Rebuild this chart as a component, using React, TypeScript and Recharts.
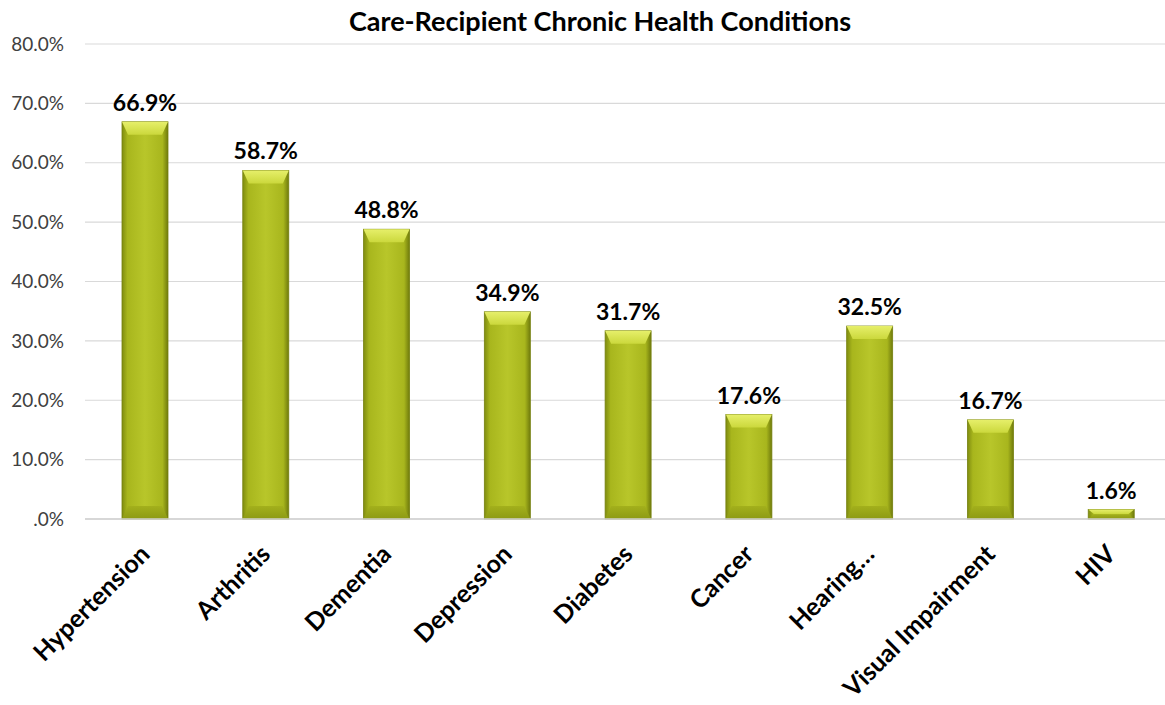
import { BarChart, Bar, XAxis, YAxis, CartesianGrid, LabelList } from 'recharts'

const categories = ['Hypertension', 'Arthritis', 'Dementia', 'Depression', 'Diabetes', 'Cancer', 'Hearing…', 'Visual Impairment', 'HIV']
const percentages = [66.9, 58.7, 48.8, 34.9, 31.7, 17.6, 32.5, 16.7, 1.6]
const yTicks = [0, 10, 20, 30, 40, 50, 60, 70, 80]

const data = categories.map((name, i) => ({ name, value: percentages[i] }))

const FONT = 'Lato, "Open Sans", sans-serif'

// bevelled bar, like the Excel "angle" bevel
const BevelBar = (props: any) => {
      const { x, y, width: w, height: h } = props
      if (!h || h <= 0) return null
      const b = Math.min(13, h / 2, w / 2)
      const s = Math.min(6, w / 4)
      return (
            <g>
                  <rect x={x} y={y} width={w} height={h} fill="url(#barBody)" stroke="#76810f" strokeWidth={0.8} />
                  <polygon
                        points={`${x},${y} ${x + w},${y} ${x + w - s},${y + b} ${x + s},${y + b}`}
                        fill="url(#barTop)"
                  />
                  <polygon
                        points={`${x},${y + h} ${x + w},${y + h} ${x + w - s},${y + h - b} ${x + s},${y + h - b}`}
                        fill="url(#barBottom)"
                  />
            </g>
      )
}

const XTick = (props: any) => {
      const { x, y, payload } = props
      return (
            <g transform={`translate(${x - 7},${y + 16})`}>
                  <text
                        textAnchor="end"
                        transform="rotate(-45)"
                        dy={18}
                        fontFamily={FONT}
                        fontWeight={700}
                        fontSize={25}
                        fill="#000"
                  >
                        {payload.value}
                  </text>
            </g>
      )
}

export default function App() {
      return (
            <div style={{ position: 'absolute', left: 0, top: 0, width: 1165, height: 705, overflow: 'hidden', background: '#fff' }}>
                  <div
                        style={{
                              position: 'absolute',
                              top: 4,
                              left: 0,
                              width: 1200,
                              textAlign: 'center',
                              fontFamily: FONT,
                              fontWeight: 700,
                              fontSize: 27,
                              color: '#000',
                        }}
                  >
                        Care-Recipient Chronic Health Conditions
                  </div>
                  <BarChart
                        width={1172}
                        height={705}
                        data={data}
                        margin={{ top: 44, right: 0, left: 0, bottom: 0 }}
                        barCategoryGap={0}
                  >
                        <defs>
                              <linearGradient id="barBody" x1="0" y1="0" x2="1" y2="0">
                                    <stop offset="0%" stopColor="#7f8c10" />
                                    <stop offset="12%" stopColor="#a8b61d" />
                                    <stop offset="50%" stopColor="#b8c62a" />
                                    <stop offset="88%" stopColor="#a8b61d" />
                                    <stop offset="100%" stopColor="#6f7a0c" />
                              </linearGradient>
                              <linearGradient id="barTop" x1="0" y1="0" x2="0" y2="1">
                                    <stop offset="0%" stopColor="#e6ef6a" />
                                    <stop offset="100%" stopColor="#cbd83c" />
                              </linearGradient>
                              <linearGradient id="barBottom" x1="0" y1="1" x2="0" y2="0">
                                    <stop offset="0%" stopColor="#8d9a14" />
                                    <stop offset="100%" stopColor="#a3b01c" />
                              </linearGradient>
                        </defs>
                        <CartesianGrid vertical={false} stroke="#d9d9d9" strokeWidth={1.2} />
                        <XAxis
                              dataKey="name"
                              interval={0}
                              tickLine={false}
                              axisLine={{ stroke: '#d0d0d0', strokeWidth: 1.5 }}
                              tick={<XTick />}
                              height={186}
                        />
                        <YAxis
                              domain={[0, 80]}
                              ticks={yTicks}
                              interval={0}
                              tickFormatter={(v: number) => (v === 0 ? '.0%' : `${v.toFixed(1)}%`)}
                              axisLine={false}
                              tickLine={false}
                              tickSize={0}
                              tickMargin={21}
                              width={85}
                              tick={{ fontFamily: FONT, fontSize: 19, fill: '#404040' }}
                        />
                        <Bar dataKey="value" barSize={46} shape={<BevelBar />} isAnimationActive={false}>
                              <LabelList
                                    dataKey="value"
                                    position="top"
                                    offset={11}
                                    formatter={(v: any) => `${Number(v).toFixed(1)}%`}
                                    style={{ fontFamily: FONT, fontWeight: 700, fontSize: 23, fill: '#000' }}
                              />
                        </Bar>
                  </BarChart>
            </div>
      )
}
